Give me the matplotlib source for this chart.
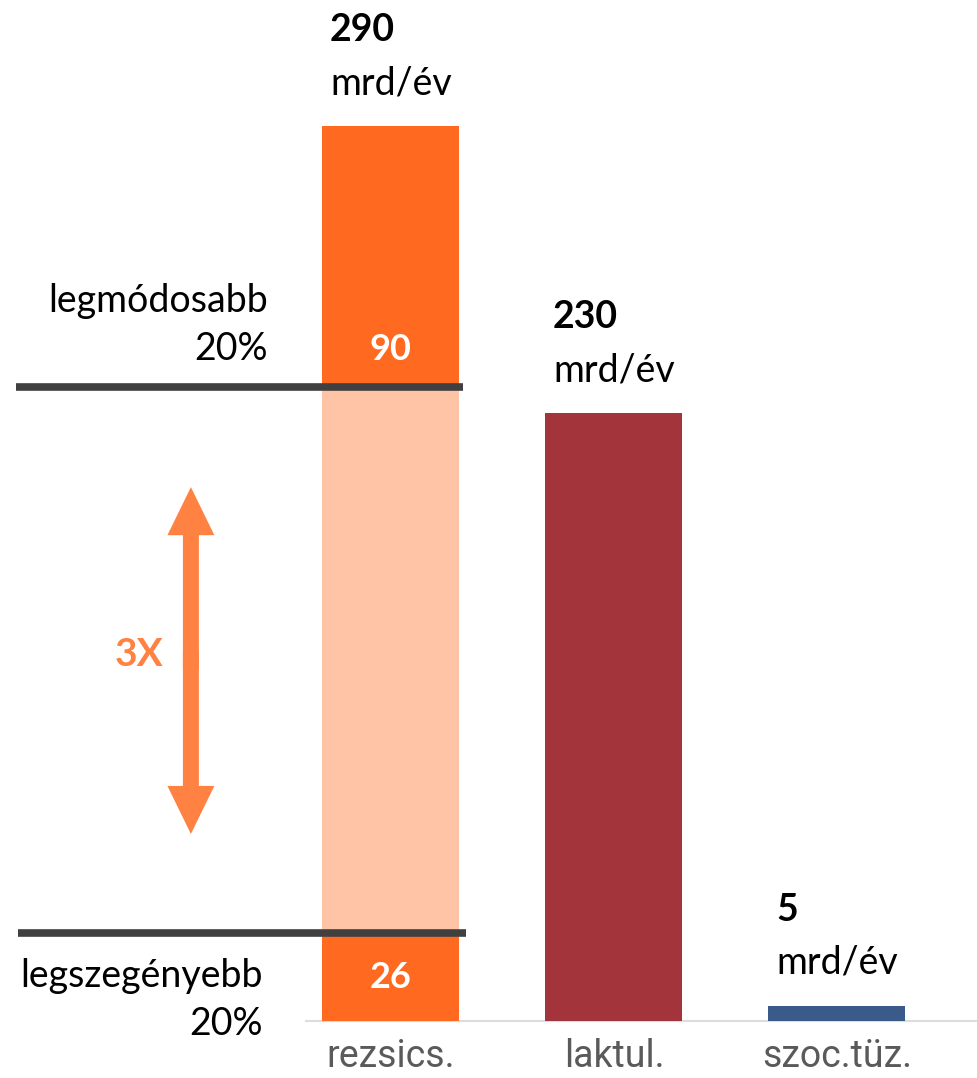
import matplotlib
matplotlib.use("Agg")
import matplotlib.pyplot as plt
from matplotlib.patches import FancyArrowPatch

# ---- data ----
categories = ["rezsics.", "laktul.", "szoc.tüz."]
total_labels = ["290", "230", "5"]
unit_label = "mrd/év"
bar_heights = [290, 197, 5]            # heights as drawn in the picture
rezsi_bottom = 28.5                    # legszegényebb 20% segment
rezsi_top = 84.5                       # legmódosabb 20% segment
rezsi_mid = bar_heights[0] - rezsi_bottom - rezsi_top
segment_labels = ["26", "90"]
group_labels = ["legmódosabb\n20%", "legszegényebb\n20%"]
ratio_label = "3X"

# ---- style ----
c_orange = "#FF6A20"
c_peach = "#FFC4A5"
c_red = "#A3343B"
c_blue = "#3A5A8A"
c_line = "#404040"
c_arrow = "#FF8242"
c_tick = "#5A5A5A"

fig = plt.figure(figsize=(9.77, 10.78), dpi=100)
H = 1078.0
base_px = 1021.0
ax = fig.add_axes([0, (H - base_px) / H, 1, base_px / H])
ppu = 3.086  # pixels per unit
ax.set_ylim(0, base_px / ppu)
ax.set_xlim(-1.753, 2.628)
for s in ax.spines.values():
    s.set_visible(False)
ax.set_yticks([])

x = [0, 1, 2]
w = 0.614
# rezsics stacked
ax.bar(x[0], rezsi_bottom, w, color=c_orange, zorder=2)
ax.bar(x[0], rezsi_mid, w, bottom=rezsi_bottom, color=c_peach, zorder=2)
ax.bar(x[0], rezsi_top, w, bottom=rezsi_bottom + rezsi_mid, color=c_orange, zorder=2)
ax.bar(x[1], bar_heights[1], w, color=c_red, zorder=2)
ax.bar(x[2], bar_heights[2], w, color=c_blue, zorder=2)

# baseline
ax.hlines(0, -0.386, 2.628, color="#DDDDDD", lw=1.5, zorder=1, clip_on=False)

ax.set_xticks(x)
ax.set_xticklabels(categories, fontfamily="Roboto", fontsize=27, color=c_tick)
ax.tick_params(axis="x", length=0, pad=12)

# total labels
for xi, h, lab in zip(x, bar_heights, total_labels):
    left = xi - w / 2
    ax.annotate(unit_label, (left, h), xytext=(5.5, 23), textcoords="offset points",
                ha="left", va="baseline", fontsize=27, fontfamily="Lato", color="black")
    ax.annotate(lab, (left, h), xytext=(5.5, 61), textcoords="offset points",
                ha="left", va="baseline", fontsize=27, fontfamily="Lato",
                fontweight="bold", color="black")

# segment labels
ax.text(x[0], rezsi_bottom / 2, segment_labels[0], ha="center", va="center",
        fontsize=26, fontfamily="Lato", fontweight="bold", color="white", zorder=3)
ax.text(x[0], rezsi_bottom + rezsi_mid + 12, segment_labels[1], ha="center", va="center",
        fontsize=26, fontfamily="Lato", fontweight="bold", color="white", zorder=3)

# horizontal group lines
y_top_line = rezsi_bottom + rezsi_mid
ax.hlines(y_top_line, -1.682, 0.323, color=c_line, lw=5.5, zorder=4)
ax.hlines(rezsi_bottom, -1.673, 0.336, color=c_line, lw=5.5, zorder=4)

# group labels (baseline = last line)
ax.text(-0.552, y_top_line + 8.7, group_labels[0], ha="right", va="baseline",
        fontsize=27, fontfamily="Lato", linespacing=1.4, color="black")
ax.text(-0.574, rezsi_bottom - 33, group_labels[1], ha="right", va="baseline",
        fontsize=27, fontfamily="Lato", linespacing=1.4, color="black", clip_on=False)

# double arrow
ax_x = -0.897
y_hi, y_lo = 173.0, 60.6
y_mid = (y_hi + y_lo) / 2
style = "simple,head_length=34.6,head_width=33.8,tail_width=11.5"
for start, yend in ((y_mid - 3, y_hi), (y_mid + 3, y_lo)):
    ax.add_patch(FancyArrowPatch((ax_x, start), (ax_x, yend), arrowstyle=style,
                                 mutation_scale=1, color=c_arrow, lw=0,
                                 shrinkA=0, shrinkB=0, zorder=3))
ax.text(-1.13, y_mid + 2, ratio_label, ha="center", va="center", fontsize=28,
        fontfamily="Lato", fontweight="bold", color=c_arrow)

fig.savefig("out.png", dpi=100)
